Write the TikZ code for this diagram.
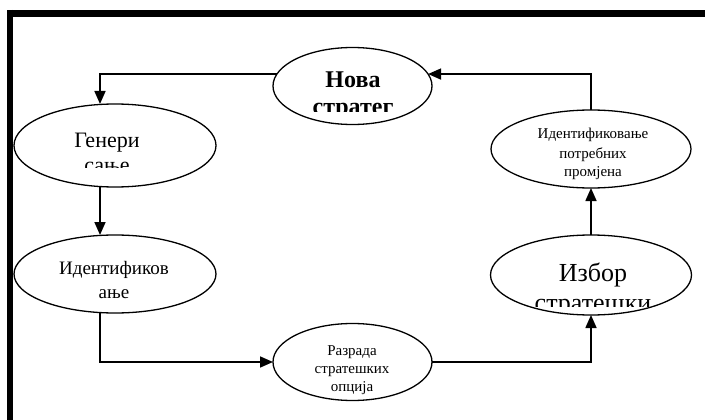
\documentclass[tikz,border=0pt]{standalone}
\usepackage{fontspec}
\setmainfont{Liberation Serif}
\usetikzlibrary{arrows.meta,shapes.geometric}
\tikzset{
  oval/.style={draw, ellipse, line width=1.3pt, inner sep=0pt, outer sep=0pt},
  arr/.style={line width=1.6pt, -{Triangle[length=13pt,width=11pt]}},
  txt/.style={inner sep=0pt, anchor=base},
  big/.style={font=\fontsize{22}{26}\selectfont},
  bigb/.style={font=\fontsize{24}{28}\selectfont\bfseries},
  mid/.style={font=\fontsize{19}{23}\selectfont},
  huge/.style={font=\fontsize{26}{30}\selectfont},
  small/.style={font=\fontsize{15}{18}\selectfont},
}
\begin{document}
\begin{tikzpicture}[x=1pt,y=-1pt]
\useasboundingbox (0,0) rectangle (705,420);
% frame
\draw[line width=7pt] (7,13.5) -- (705,13.5);
\draw[line width=6pt] (10,10) -- (10,420);
% ellipses
\node[oval, minimum width=159pt, minimum height=77pt] (nova) at (352.5,86) {};
\node[oval, minimum width=202pt, minimum height=83pt] (gen) at (115,145.5) {};
\node[oval, minimum width=202pt, minimum height=78pt] (ident) at (115,274) {};
\node[oval, minimum width=159pt, minimum height=77pt] (razr) at (352.5,362) {};
\node[oval, minimum width=201pt, minimum height=80pt] (izbor) at (591,275) {};
\node[oval, minimum width=200pt, minimum height=78pt] (potr) at (591,149) {};
\coordinate (lx) at (100,0);
% texts
\begin{scope}
\clip (280,50) rectangle (430,112);
\node[txt,bigb] (tnova1) at (353,88) {Нова};
\node[txt,bigb] (tnova2) at (353,114) {стратег};
\end{scope}
\begin{scope}
\clip (20,110) rectangle (210,167);
\node[txt,big] (tgen1) at (107,147) {Генери};
\node[txt,big] (tgen2) at (107,172) {сање};
\end{scope}
\node[txt,mid] (tid1) at (114,274) {Идентификов};
\node[txt,mid] (tid2) at (114,298) {ање};
\node[txt,small] (trz1) at (352,355) {Разрада};
\node[txt,small] (trz2) at (352,373) {стратешких};
\node[txt,small] (trz3) at (352,391) {опција};
\begin{scope}
\clip (495,240) rectangle (690,306);
\node[txt,huge] (tiz1) at (593,281) {Избор};
\node[txt,huge] (tiz2) at (593,311) {стратешки};
\end{scope}
\node[txt,small] (tpo1) at (593,139) {Идентификовање};
\node[txt,small] (tpo2) at (593,158) {потребних};
\node[txt,small] (tpo3) at (593,176) {промјена};
% connectors
\draw[arr] (nova.171) -| (gen.north -| lx);
\draw[arr] (gen.south -| lx) -- (ident.north -| lx);
\draw[arr] (ident.south -| lx) |- (razr.west);
\draw[arr] (razr.east) -| (izbor.south);
\draw[arr] (izbor.north) -- (potr.south);
\draw[arr] (potr.north) |- (nova.9);
\end{tikzpicture}
\end{document}
